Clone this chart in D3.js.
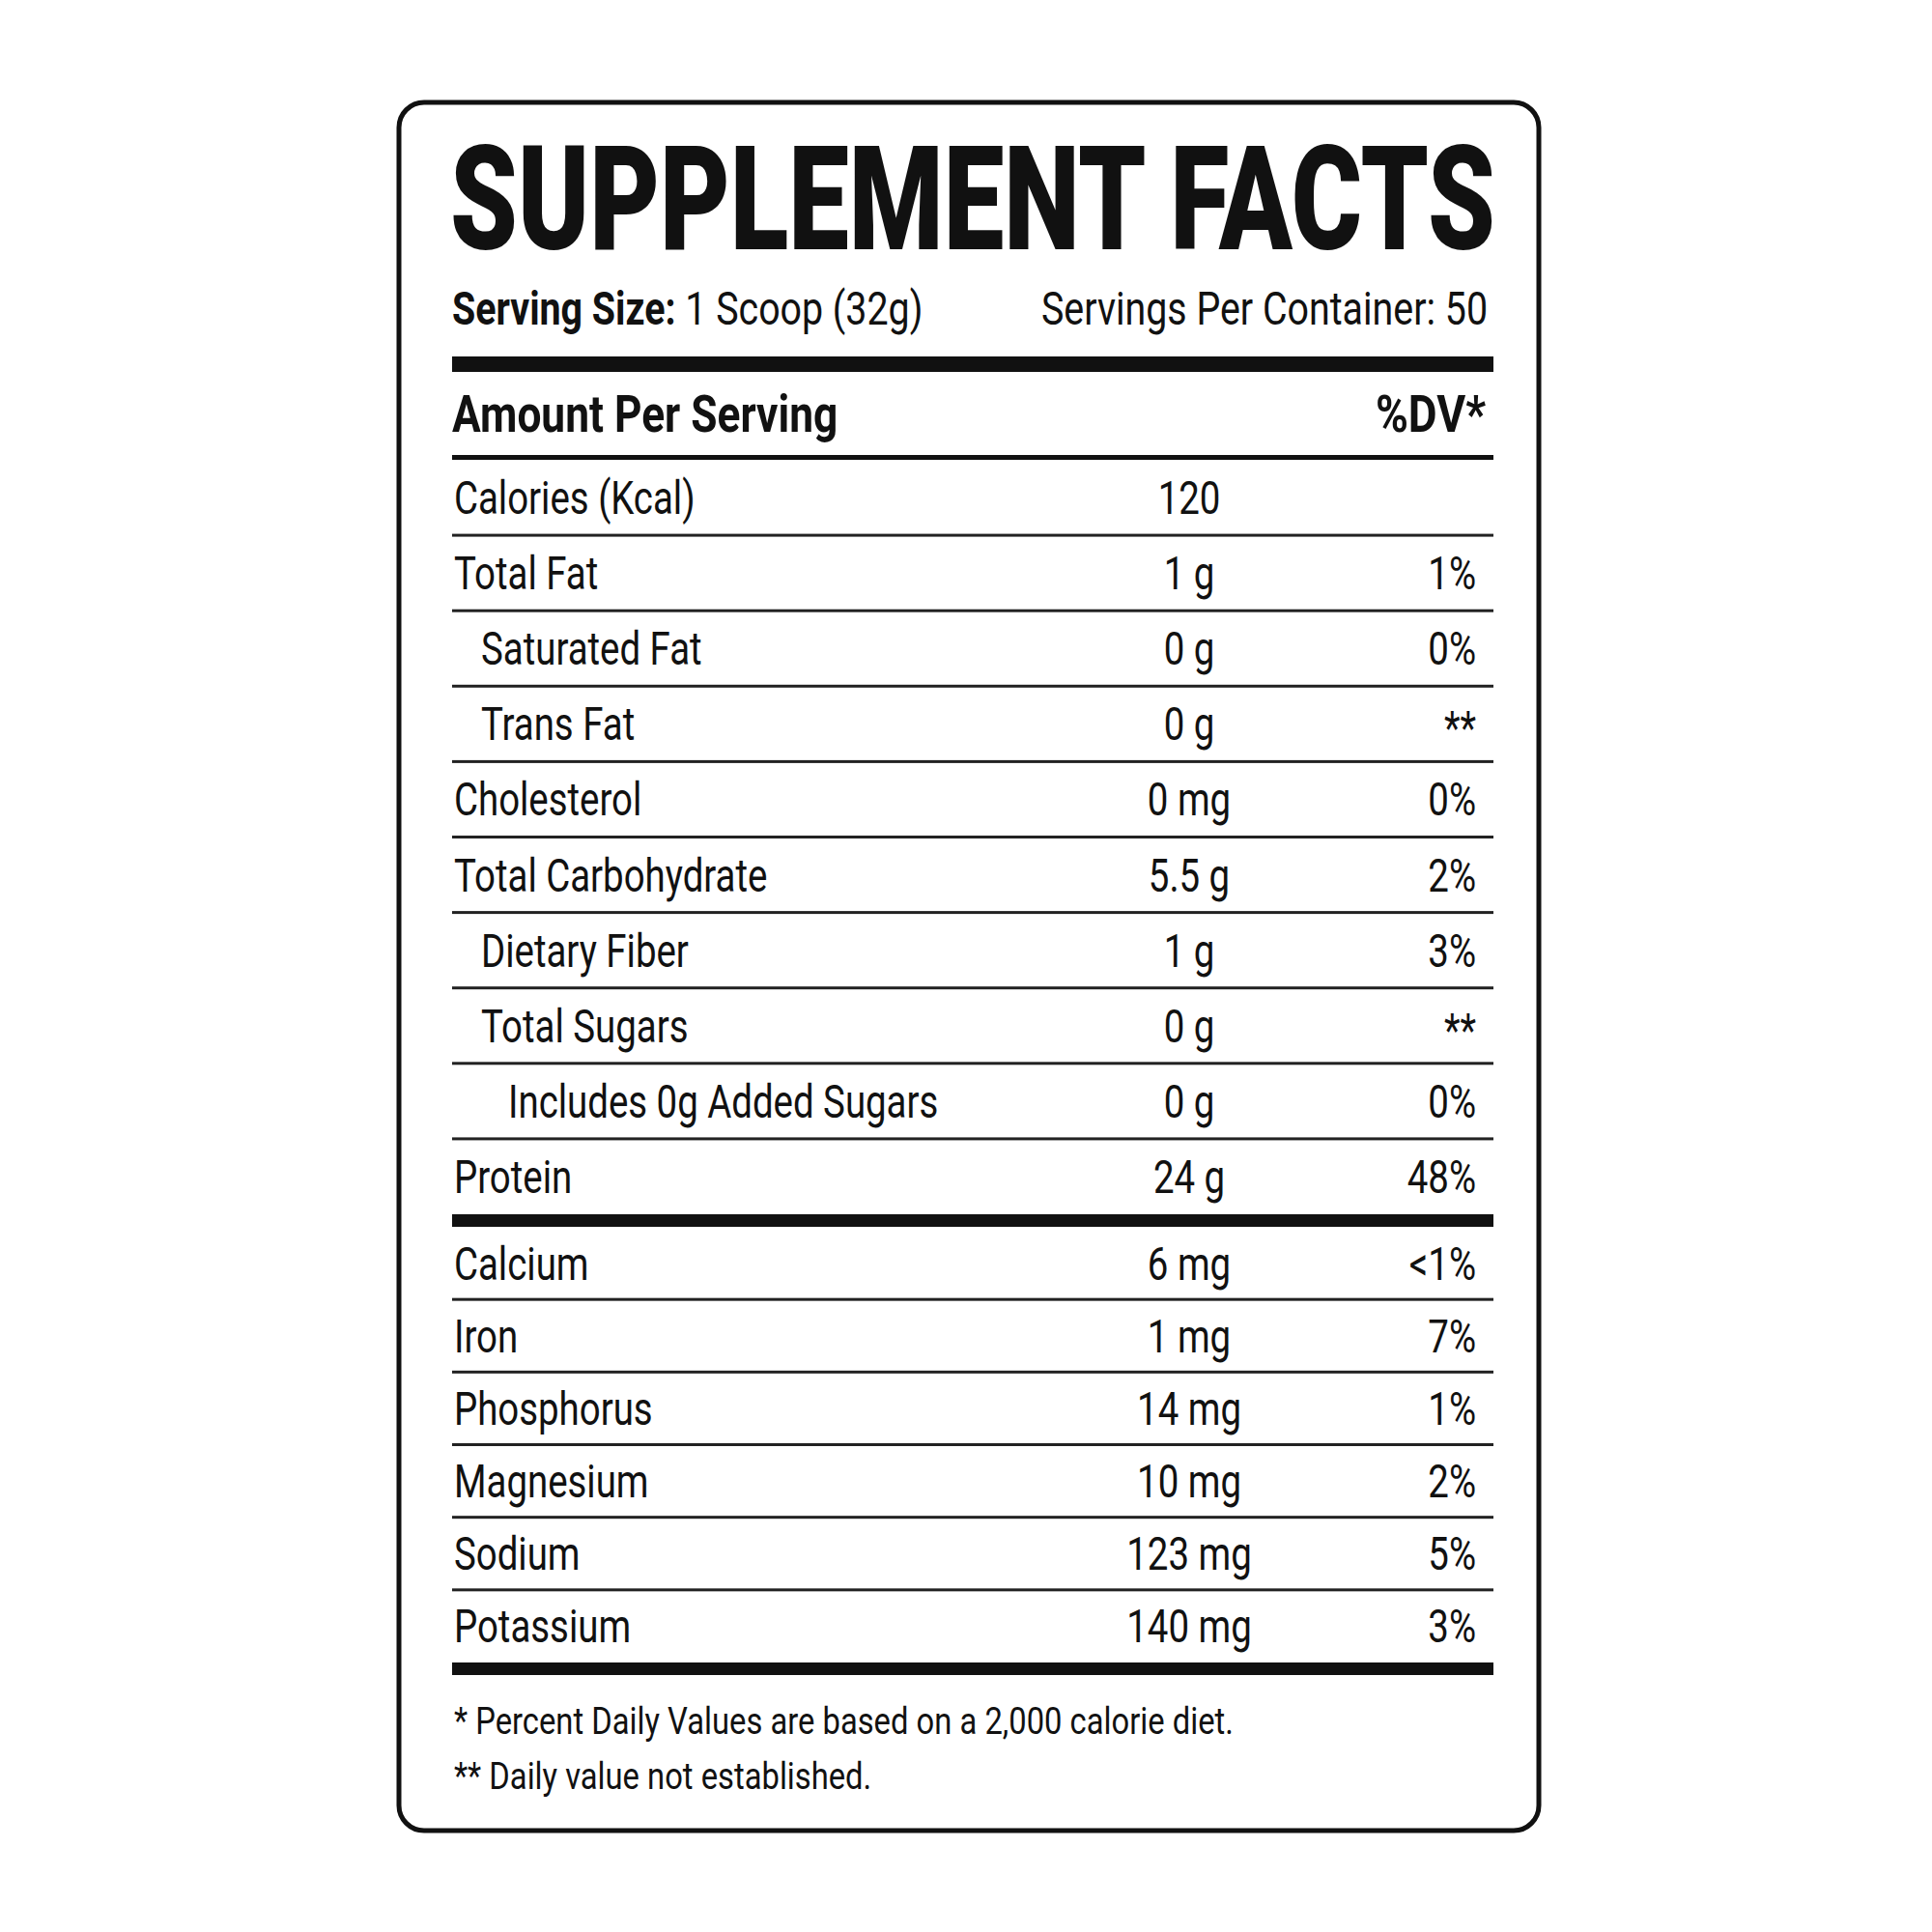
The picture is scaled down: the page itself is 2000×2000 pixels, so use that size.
<!DOCTYPE html>
<html><head><meta charset="utf-8">
<script src="https://cdn.jsdelivr.net/npm/d3@7"></script>
<style>body{margin:0;background:#fff}</style>
</head><body><svg></svg>
<script>
// nutrient rows: label, amount, %DV, indent level
const macroLabels = ['Calories (Kcal)', 'Total Fat', 'Saturated Fat', 'Trans Fat', 'Cholesterol', 'Total Carbohydrate', 'Dietary Fiber', 'Total Sugars', 'Includes 0g Added Sugars', 'Protein']
const macroAmounts = ['120', '1 g', '0 g', '0 g', '0 mg', '5.5 g', '1 g', '0 g', '0 g', '24 g']
const macroDV = ['', '1%', '0%', '**', '0%', '2%', '3%', '**', '0%', '48%']
const macroIndent = [0, 0, 1, 1, 0, 0, 1, 1, 2, 0]
const mineralLabels = ['Calcium', 'Iron', 'Phosphorus', 'Magnesium', 'Sodium', 'Potassium']
const mineralAmounts = ['6 mg', '1 mg', '14 mg', '10 mg', '123 mg', '140 mg']
const mineralDV = ['<1%', '7%', '1%', '2%', '5%', '3%']
const footnotes = ['* Percent Daily Values are based on a 2,000 calorie diet.', '** Daily value not established.']

const W = 2000, H = 2000
const svg = d3.select('svg').attr('width', W).attr('height', H)
  .style('font-family', '"Liberation Sans Narrow", "Roboto", sans-serif')

const L = 468, R = 1546
const SX = 0.8

// condensed text: squeeze horizontally around its anchor point
function txt(x, y, t, size, opts = {}) {
  return svg.append('text')
    .attr('transform', `translate(${x},${y}) scale(${opts.sx || SX},1)`)
    .attr('text-anchor', opts.anchor || 'start')
    .attr('font-size', size).attr('font-weight', opts.bold ? 'bold' : 'normal')
    .attr('fill', '#111').text(t)
}

svg.append('rect').attr('x', 413).attr('y', 106).attr('width', 1180).attr('height', 1789)
  .attr('rx', 26).attr('fill', '#fff').attr('stroke', '#111').attr('stroke-width', 5)

svg.append('text').attr('x', L - 2).attr('y', 258).text('SUPPLEMENT FACTS')
  .attr('font-size', 150).attr('font-weight', 900).attr('textLength', R - L + 4)
  .attr('lengthAdjust', 'spacingAndGlyphs').attr('fill', '#111')

const serv = txt(L, 336, '', 48, { sx: 0.82 })
serv.append('tspan').attr('font-weight', 'bold').text('Serving Size:')
serv.append('tspan').text(' 1 Scoop (32g)')
txt(R - 6, 336, 'Servings Per Container: 50', 48, { anchor: 'end', sx: 0.82 })

svg.append('rect').attr('x', L).attr('y', 369).attr('width', R - L).attr('height', 16).attr('fill', '#111')

txt(L, 447, 'Amount Per Serving', 54, { bold: true, sx: 0.82 })
txt(R - 8, 447, '%DV*', 54, { bold: true, anchor: 'end', sx: 0.85 })
svg.append('rect').attr('x', L).attr('y', 471).attr('width', R - L).attr('height', 5).attr('fill', '#111')

const amtX = 1231, dvX = 1528
function block(labels, amounts, dvs, indents, y0, y1) {
  const y = d3.scaleBand().domain(labels).range([y0, y1])
  labels.forEach((lab, i) => {
    const cy = y(lab) + y.bandwidth() / 2 + 17
    txt(L + 2 + indents[i] * 28, cy, lab, 48)
    txt(amtX, cy, amounts[i], 48, { anchor: 'middle' })
    txt(dvX, cy + (dvs[i] === '**' ? 4 : 0), dvs[i], 48, { anchor: 'end' })
    if (i < labels.length - 1)
      svg.append('rect').attr('x', L).attr('y', y(lab) + y.bandwidth() - 1.5).attr('width', R - L)
        .attr('height', 3).attr('fill', '#222')
  })
}
block(macroLabels, macroAmounts, macroDV, macroIndent, 476, 1257)
svg.append('rect').attr('x', L).attr('y', 1257).attr('width', R - L).attr('height', 13).attr('fill', '#111')
block(mineralLabels, mineralAmounts, mineralDV, mineralLabels.map(() => 0), 1270, 1721)
svg.append('rect').attr('x', L).attr('y', 1721).attr('width', R - L).attr('height', 13).attr('fill', '#111')

footnotes.forEach((t, i) => txt(L + 2, 1795 + i * 57, t, 39, { sx: 0.84 }))
</script></body></html>
